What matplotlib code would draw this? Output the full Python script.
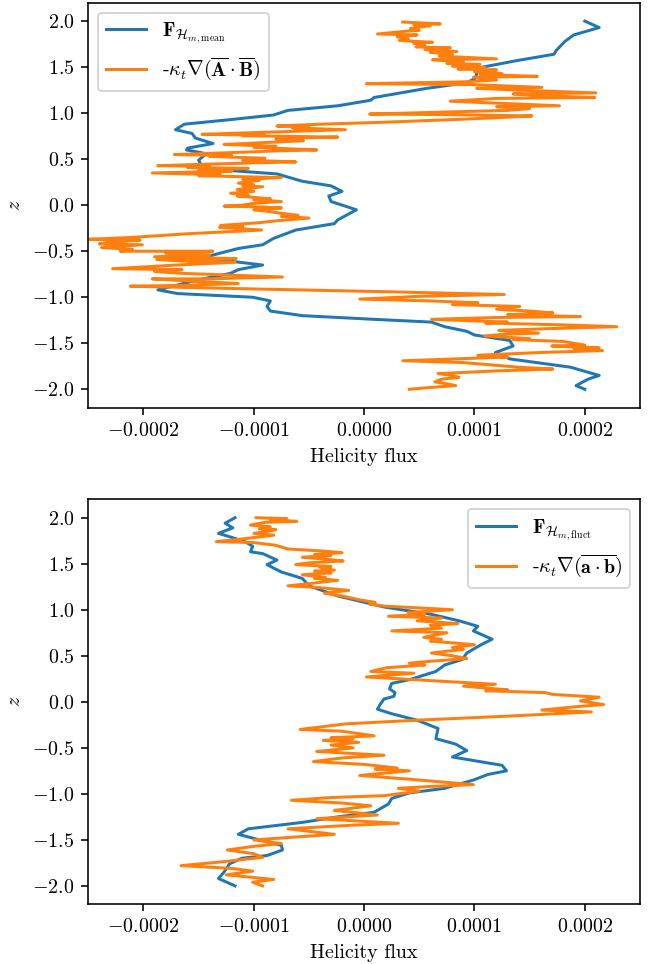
import numpy as np
import matplotlib
matplotlib.use("Agg")
import matplotlib.pyplot as plt

plt.rcParams['font.family'] = 'serif'
plt.rcParams['font.serif'] = ['cmr10']
plt.rcParams['mathtext.fontset'] = 'cm'
plt.rcParams['axes.formatter.use_mathtext'] = True
plt.rcParams['font.size'] = 10
plt.rcParams['axes.unicode_minus'] = True

# helicity flux values in units of 1e-4

# top panel, mean field
mean_F_z = [2.00, 1.93, 1.85, 1.78, 1.68, 1.64, 1.57, 1.49, 1.38, 1.33, 1.27, 1.17, 1.14,
            1.08, 1.03, 0.98, 0.93, 0.88, 0.82, 0.78, 0.73, 0.67, 0.62, 0.60, 0.56, 0.49,
            0.42, 0.39, 0.34, 0.26, 0.21, 0.15, 0.10, 0.04, -0.05, -0.16, -0.20, -0.27,
            -0.36, -0.43, -0.47, -0.56, -0.59, -0.65, -0.70, -0.74, -0.81, -0.92, -0.96,
            -1.00, -1.04, -1.10, -1.15, -1.20, -1.24, -1.27, -1.32, -1.37, -1.41, -1.47,
            -1.53, -1.60, -1.67, -1.76, -1.85, -1.89, -1.96, -2.00]
mean_F = [2.00, 2.13, 1.90, 1.82, 1.74, 1.72, 1.38, 1.03, 1.01, 0.93, 0.57, 0.09, 0.06,
          -0.24, -0.69, -0.82, -1.21, -1.63, -1.71, -1.56, -1.53, -1.37, -1.60, -1.61,
          -1.43, -1.50, -1.47, -1.37, -0.79, -0.56, -0.30, -0.20, -0.32, -0.30, -0.07,
          -0.24, -0.27, -0.62, -0.82, -0.92, -1.14, -1.43, -1.34, -0.92, -1.14, -1.21,
          -1.50, -1.87, -1.69, -1.01, -0.85, -0.88, -0.85, -0.56, 0.09, 0.61, 0.73, 0.93,
          1.00, 1.32, 1.35, 1.19, 1.32, 1.87, 2.13, 2.03, 1.92, 2.00]

# (flux, z) pairs along the jagged curve
mean_AB = [
    (0.35, 1.99), (0.69, 1.97), (0.45, 1.96), (0.60, 1.95), (0.42, 1.92), (0.50, 1.90),
    (0.38, 1.89), (0.12, 1.86), (0.48, 1.85), (0.30, 1.83), (0.40, 1.81), (0.32, 1.79),
    (0.62, 1.77), (0.45, 1.76), (0.55, 1.74), (0.47, 1.72), (0.78, 1.71), (0.55, 1.69),
    (0.84, 1.67), (0.60, 1.66), (0.80, 1.64), (0.68, 1.62), (1.20, 1.59), (0.62, 1.58),
    (0.90, 1.56), (0.75, 1.54), (1.05, 1.53), (0.80, 1.51), (1.10, 1.49), (0.85, 1.48),
    (1.20, 1.47), (1.00, 1.45), (1.25, 1.43), (1.05, 1.42), (1.57, 1.40), (0.99, 1.39),
    (1.20, 1.36), (0.90, 1.34), (0.02, 1.32), (0.99, 1.31), (1.61, 1.28), (1.02, 1.27),
    (1.40, 1.25), (2.10, 1.22), (1.35, 1.21), (1.60, 1.19), (2.09, 1.17), (1.20, 1.16),
    (0.78, 1.13), (1.77, 1.08), (1.20, 1.07), (1.50, 1.05), (1.30, 1.03), (0.05, 0.99),
    (0.70, 0.985), (1.52, 0.97), (1.20, 0.95), (0.80, 0.93), (0.15, 0.90), (-0.40, 0.88),
    (-0.79, 0.86), (-0.50, 0.85), (-0.65, 0.84), (-0.17, 0.82), (-0.45, 0.81), (-0.70, 0.80),
    (-1.47, 0.77), (-0.90, 0.76), (-1.10, 0.755), (-0.24, 0.74), (-0.60, 0.73), (-0.80, 0.72),
    (-0.55, 0.70), (-0.90, 0.68), (-1.27, 0.66), (-0.80, 0.64), (-1.00, 0.63), (-0.43, 0.60),
    (-0.80, 0.59), (-1.00, 0.58), (-1.72, 0.55), (-1.20, 0.54), (-1.40, 0.53), (-0.90, 0.51),
    (-1.10, 0.49), (-0.62, 0.47), (-1.00, 0.46), (-1.30, 0.45), (-1.87, 0.43), (-1.40, 0.42),
    (-1.60, 0.41), (-1.05, 0.40), (-1.50, 0.38), (-1.20, 0.37), (-1.92, 0.35), (-1.30, 0.33),
    (-1.50, 0.32), (-0.75, 0.30), (-1.10, 0.28), (-0.95, 0.27), (-1.14, 0.24), (-1.00, 0.22),
    (-1.10, 0.21), (-0.92, 0.20), (-1.15, 0.17), (-1.00, 0.15), (-1.21, 0.13), (-1.05, 0.11),
    (-1.15, 0.10), (-0.85, 0.07), (-1.00, 0.06), (-0.75, 0.04), (-1.00, 0.02), (-1.11, 0.00),
    (-1.27, -0.01), (-0.90, -0.02), (-0.75, -0.03), (-1.00, -0.05), (-0.85, -0.07),
    (-0.80, -0.08), (-0.60, -0.11), (-0.75, -0.12), (-0.50, -0.14), (-0.80, -0.17),
    (-0.95, -0.19), (-1.30, -0.22), (-1.10, -0.23), (-1.31, -0.24), (-0.93, -0.27),
    (-1.60, -0.31), (-2.10, -0.35), (-2.49, -0.37), (-2.03, -0.38), (-2.30, -0.40),
    (-2.40, -0.42), (-2.01, -0.43), (-2.25, -0.45), (-2.38, -0.46), (-2.10, -0.48),
    (-2.21, -0.50), (-1.37, -0.50), (-1.80, -0.52), (-1.40, -0.54), (-1.90, -0.56),
    (-1.16, -0.58), (-1.88, -0.59), (-1.60, -0.61), (-1.17, -0.62), (-1.70, -0.65),
    (-2.28, -0.69), (-1.65, -0.70), (-1.90, -0.72), (-1.66, -0.74), (-1.20, -0.76),
    (-0.74, -0.78), (-1.40, -0.80), (-1.92, -0.80), (-1.50, -0.83), (-1.14, -0.85),
    (-1.60, -0.87), (-2.12, -0.88), (-1.00, -0.91), (0.20, -0.94), (1.27, -0.97),
    (0.50, -0.99), (-0.04, -1.02), (0.60, -1.04), (1.03, -1.06), (0.80, -1.08), (1.41, -1.10),
    (1.20, -1.13), (1.50, -1.15), (1.71, -1.17), (1.30, -1.19), (1.96, -1.21), (1.20, -1.22),
    (0.61, -1.24), (1.30, -1.27), (1.10, -1.28), (1.80, -1.30), (2.29, -1.32), (1.70, -1.34),
    (1.22, -1.36), (1.58, -1.39), (1.30, -1.40), (1.09, -1.42), (1.50, -1.45), (1.35, -1.46),
    (1.80, -1.48), (2.00, -1.52), (1.70, -1.53), (2.13, -1.55), (1.90, -1.56), (2.16, -1.58),
    (1.60, -1.60), (1.03, -1.63), (1.30, -1.65), (0.35, -1.69), (0.90, -1.71), (1.10, -1.73),
    (1.40, -1.76), (1.71, -1.78), (1.20, -1.80), (0.67, -1.83), (0.80, -1.85), (0.86, -1.87),
    (0.70, -1.89), (0.64, -1.92), (0.75, -1.94), (0.83, -1.96), (0.60, -1.98), (0.41, -2.00)]

# bottom panel, fluctuating field
fluct_F_z = [2.00, 1.94, 1.89, 1.83, 1.79, 1.74, 1.69, 1.63, 1.61, 1.54, 1.49, 1.41, 1.34,
             1.26, 1.15, 1.03, 0.95, 0.88, 0.82, 0.77, 0.68, 0.62, 0.53, 0.46, 0.40, 0.33,
             0.24, 0.20, 0.14, 0.10, 0.06, 0.03, -0.02, -0.08, -0.13, -0.20, -0.29, -0.40,
             -0.46, -0.53, -0.60, -0.69, -0.75, -0.79, -0.85, -0.94, -0.99, -1.05, -1.11,
             -1.20, -1.25, -1.31, -1.38, -1.44, -1.49, -1.56, -1.61, -1.67, -1.70, -1.76,
             -1.85, -1.92, -2.00]
fluct_F = [-1.17, -1.26, -1.19, -1.32, -1.21, -1.08, -1.01, -1.03, -0.92, -0.79, -0.88,
           -0.75, -0.56, -0.50, -0.24, 0.18, 0.61, 0.86, 1.03, 0.99, 1.16, 1.06, 0.93, 0.89,
           0.73, 0.65, 0.41, 0.25, 0.23, 0.28, 0.27, 0.18, 0.15, 0.12, 0.25, 0.48, 0.67,
           0.65, 0.83, 0.93, 0.80, 1.25, 1.29, 1.12, 0.99, 0.73, 0.41, 0.25, 0.22, 0.09,
           -0.24, -0.56, -1.05, -1.14, -0.98, -0.75, -0.74, -0.88, -1.11, -1.22, -1.27,
           -1.32, -1.17]

fluct_ab = [
    (-0.98, 2.00), (-0.70, 1.99), (-0.85, 1.98), (-0.61, 1.96), (-0.90, 1.95), (-1.03, 1.92),
    (-0.85, 1.90), (-0.95, 1.88), (-0.80, 1.87), (-0.88, 1.85), (-1.00, 1.83), (-0.82, 1.81),
    (-1.10, 1.77), (-1.34, 1.74), (-1.00, 1.73), (-0.80, 1.70), (-0.69, 1.66), (-0.40, 1.64),
    (-0.20, 1.62), (-0.45, 1.60), (-0.30, 1.59), (-0.56, 1.57), (-0.35, 1.55), (-0.19, 1.53),
    (-0.50, 1.51), (-0.62, 1.49), (-0.30, 1.47), (-0.40, 1.46), (-0.27, 1.43), (-0.45, 1.42),
    (-0.30, 1.40), (-0.56, 1.38), (-0.35, 1.35), (-0.45, 1.34), (-0.24, 1.32), (-0.45, 1.29),
    (-0.69, 1.26), (-0.40, 1.24), (-0.14, 1.21), (-0.36, 1.18), (-0.20, 1.15), (-0.05, 1.11),
    (0.10, 1.08), (0.05, 1.06), (0.18, 1.04), (0.50, 1.02), (0.80, 1.00), (0.40, 0.97),
    (0.55, 0.95), (0.22, 0.93), (0.70, 0.91), (0.48, 0.88), (0.85, 0.85), (0.60, 0.83),
    (0.70, 0.80), (0.25, 0.77), (0.75, 0.75), (0.54, 0.70), (0.70, 0.68), (0.60, 0.66),
    (1.00, 0.62), (0.80, 0.59), (0.90, 0.57), (0.61, 0.53), (0.80, 0.50), (0.93, 0.47),
    (0.60, 0.44), (0.41, 0.42), (0.55, 0.40), (0.20, 0.37), (0.06, 0.33), (0.45, 0.31),
    (0.02, 0.27), (0.60, 0.23), (1.19, 0.19), (0.90, 0.17), (1.30, 0.13), (1.10, 0.12),
    (1.64, 0.10), (1.71, 0.08), (2.13, 0.05), (1.96, 0.01), (2.17, -0.03), (1.95, -0.05),
    (1.61, -0.09), (2.06, -0.11), (1.40, -0.15), (0.48, -0.20), (-0.17, -0.24), (-0.58, -0.30),
    (-0.20, -0.32), (0.09, -0.37), (-0.30, -0.39), (-0.10, -0.40), (-0.37, -0.42),
    (-0.05, -0.44), (-0.30, -0.47), (-0.10, -0.50), (-0.43, -0.54), (0.18, -0.58),
    (-0.20, -0.61), (-0.46, -0.65), (0.00, -0.68), (0.30, -0.72), (0.10, -0.73), (0.41, -0.75),
    (-0.04, -0.80), (0.40, -0.84), (0.70, -0.87), (0.99, -0.90), (0.60, -0.92), (0.31, -0.94),
    (0.50, -0.97), (0.18, -1.02), (-0.30, -1.04), (-0.66, -1.07), (-0.20, -1.10),
    (0.06, -1.13), (-0.27, -1.18), (0.12, -1.23), (-0.43, -1.27), (0.31, -1.32),
    (-0.10, -1.34), (-0.69, -1.38), (-0.27, -1.44), (-1.00, -1.50), (-0.75, -1.54),
    (-1.00, -1.57), (-1.24, -1.61), (-1.00, -1.65), (-0.92, -1.69), (-1.30, -1.74),
    (-1.66, -1.78), (-1.20, -1.81), (-1.01, -1.84), (-1.25, -1.88), (-0.82, -1.93),
    (-1.01, -1.96), (-0.92, -2.00)]

scale = 1e-4
mean_AB = np.array(mean_AB)
fluct_ab = np.array(fluct_ab)

W, H, dpi = 655, 964, 144
fig = plt.figure(figsize=(W / dpi, H / dpi), dpi=dpi)
ax1 = fig.add_axes([88.3 / W, 1 - 407.7 / H, (640 - 88.3) / W, 405 / H])
ax2 = fig.add_axes([88.3 / W, 1 - 904.3 / H, (640 - 88.3) / W, 405 / H])

ax1.plot(np.array(mean_F) * scale, mean_F_z,
         label=r'$\mathbf{F}_{\mathcal{H}_{m,\mathrm{mean}}}$')
ax1.plot(mean_AB[:, 0] * scale, mean_AB[:, 1],
         label=r'-$\kappa_t\nabla(\overline{\mathbf{A}}\cdot\overline{\mathbf{B}})$')
ax1.legend(loc='upper left')

ax2.plot(np.array(fluct_F) * scale, fluct_F_z,
         label=r'$\mathbf{F}_{\mathcal{H}_{m,\mathrm{fluct}}}$')
ax2.plot(fluct_ab[:, 0] * scale, fluct_ab[:, 1],
         label=r'-$\kappa_t\nabla(\overline{\mathbf{a}\cdot\mathbf{b}})$')
ax2.legend(loc='upper right')

for ax in (ax1, ax2):
    ax.set_xlim(-0.00025, 0.00025)
    ax.set_ylim(-2.2, 2.2)
    ax.set_xticks([-0.0002, -0.0001, 0.0, 0.0001, 0.0002])
    ax.set_xlabel("Helicity flux")
    ax.set_ylabel(r"$z$")

fig.savefig("out.png", dpi=dpi)
